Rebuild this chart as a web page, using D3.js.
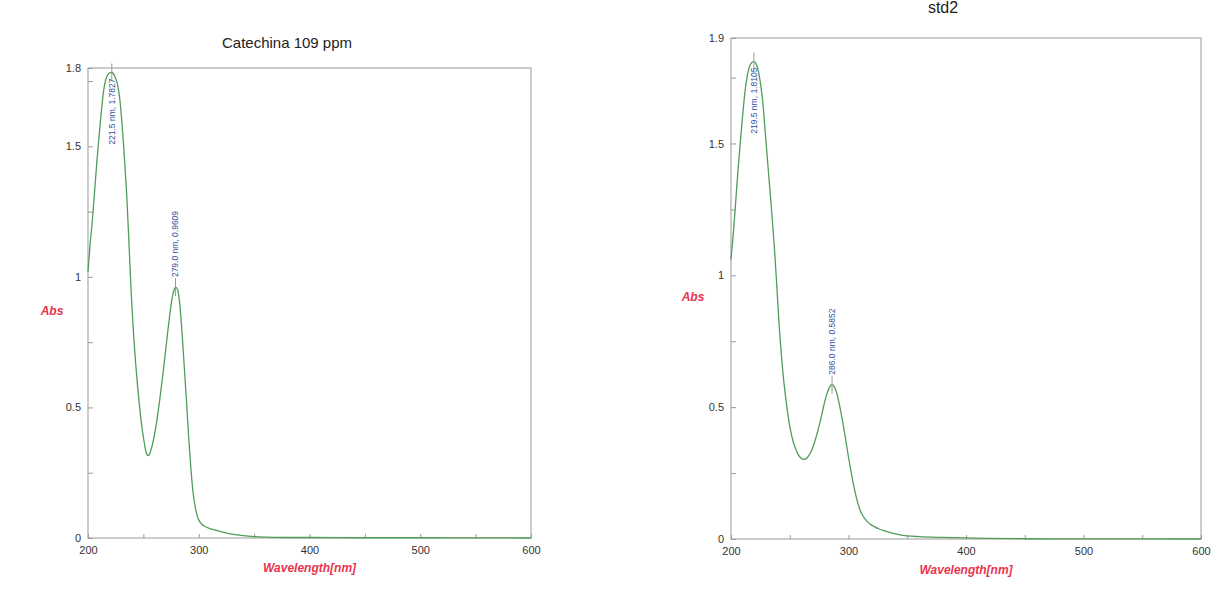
<!DOCTYPE html>
<html>
<head>
<meta charset="utf-8">
<script src="https://cdn.jsdelivr.net/npm/d3@7"></script>
<style>
  body { margin: 0; background: #fff; }
  svg { display: block; }
</style>
</head>
<body>
<div id="d3-container"></div>
<script>
/**
 * DATA
 * */
const titles = ["Catechina 109 ppm", "std2"];
const xTickLabels = [200, 300, 400, 500, 600];

// Catechina 109 ppm spectrum
const catNm = [200, 202, 204, 206, 208, 210, 212, 214, 216, 218, 220, 221.5, 223, 225, 227, 229, 231, 233, 235, 237,
  239, 241, 243, 245, 247, 249, 251, 252, 253, 254, 255, 256, 258, 260, 262, 264, 266, 268, 270, 272, 274, 276, 277.5,
  279, 281, 283, 285, 287, 289, 291, 293, 295, 297, 299, 301, 303, 305, 310, 315, 320, 325, 330, 340,
  350, 360, 380, 400, 450, 500, 550, 600];
const catAbs = [1.02, 1.13, 1.22, 1.33, 1.44, 1.54, 1.63, 1.71, 1.755, 1.775, 1.782, 1.7827, 1.778, 1.76, 1.73, 1.67, 1.57, 1.45, 1.31, 1.13,
  0.94, 0.79, 0.67, 0.57, 0.485, 0.415, 0.36, 0.337, 0.322, 0.316, 0.318, 0.326, 0.355, 0.395, 0.445, 0.505, 0.57, 0.64, 0.715, 0.79, 0.86, 0.92, 0.948,
  0.9609, 0.95, 0.89, 0.78, 0.65, 0.52, 0.38, 0.26, 0.17, 0.115, 0.08, 0.062, 0.052, 0.046, 0.036, 0.03, 0.024, 0.019, 0.015, 0.009,
  0.005, 0.003, 0.002, 0.002, 0.001, 0.001, 0.0005, 0];
const catPeakNm = [221.5, 279.0];
const catPeakAbs = [1.7827, 0.9609];

// std2 spectrum
const stdNm = [200, 202, 204, 206, 208, 210, 212, 214, 216, 218, 219.5, 221, 223, 225, 227, 229, 231, 233, 235, 237,
  239, 241, 243, 245, 247, 249, 251, 253, 255, 257, 259, 261.5, 264, 266, 268, 270, 272, 274, 276, 278,
  280, 282, 284, 286, 288, 290, 292, 294, 296, 298, 300, 302, 304, 306, 308, 310, 312, 314, 316, 318,
  322, 326, 330, 335, 340, 345, 350, 360, 380, 400, 420, 450, 500, 600];
const stdAbs = [1.06, 1.16, 1.28, 1.40, 1.51, 1.61, 1.70, 1.76, 1.795, 1.808, 1.8105, 1.805, 1.78, 1.73, 1.66, 1.55, 1.44, 1.33, 1.22, 1.10,
  0.96, 0.81, 0.69, 0.595, 0.52, 0.455, 0.405, 0.368, 0.342, 0.322, 0.309, 0.302, 0.305, 0.315, 0.33, 0.352, 0.38, 0.412, 0.448, 0.487,
  0.525, 0.556, 0.577, 0.5852, 0.577, 0.553, 0.515, 0.47, 0.42, 0.365, 0.31, 0.26, 0.212, 0.17, 0.135, 0.108, 0.09, 0.076, 0.066, 0.058,
  0.047, 0.038, 0.032, 0.025, 0.019, 0.015, 0.012, 0.009, 0.006, 0.004, 0.002, 0.001, 0.0005, 0];
const stdPeakNm = [219.5, 286.0];
const stdPeakAbs = [1.8105, 0.5852];

const catYTicks = [0, 0.5, 1, 1.5, 1.8];
const stdYTicks = [0, 0.5, 1, 1.5, 1.9];

/**
 * LAYOUT
 * */
const width = 1229, height = 590;
const panels = [
  { title: titles[0], nm: catNm, abs: catAbs, peakNm: catPeakNm, peakAbs: catPeakAbs, yMax: 1.8, yTicks: catYTicks,
    x0: 88, x1: 531, y0: 538, y1: 68, titleX: 287, titleY: 48, titleSize: 15, absX: 52, absY: 315, labelY: 572,
    labelSide: ["below", "above"] },
  { title: titles[1], nm: stdNm, abs: stdAbs, peakNm: stdPeakNm, peakAbs: stdPeakAbs, yMax: 1.9, yTicks: stdYTicks,
    x0: 731, x1: 1201, y0: 539, y1: 38, titleX: 943, titleY: 13, titleSize: 16, absX: 693, absY: 301, labelY: 574,
    labelSide: ["below", "above"] }
];

const red = "#e8344e", blue = "#2d4f9e", green = "#4f9d58", frameCol = "#9a9a9a";

const svg = d3.select("#d3-container")
  .append("svg")
  .attr("width", width)
  .attr("height", height)
  .style("font-family", "Arial, 'Liberation Sans', sans-serif");

panels.forEach(drawPanel);

function drawPanel(p) {
  const x = d3.scaleLinear().domain([200, 600]).range([p.x0, p.x1]);
  const y = d3.scaleLinear().domain([0, p.yMax]).range([p.y0, p.y1]);
  const g = svg.append("g");

  // frame
  g.append("rect")
    .attr("x", p.x0).attr("y", p.y1)
    .attr("width", p.x1 - p.x0).attr("height", p.y0 - p.y1)
    .attr("fill", "none").attr("stroke", frameCol).attr("stroke-width", 1);

  // x axis, ticks every 50 nm pointing inward
  const xAxis = d3.axisBottom(x)
    .tickValues(d3.range(200, 601, 50))
    .tickSizeInner(-4).tickSizeOuter(0)
    .tickFormat(d => xTickLabels.includes(d) ? d : "");
  const gx = g.append("g").attr("transform", `translate(0,${p.y0})`).call(xAxis);
  gx.select(".domain").remove();
  gx.selectAll("line").attr("stroke", frameCol);
  gx.selectAll("text").attr("dy", "1.1em").attr("y", 4)
    .attr("fill", "#333").style("font-size", "11px");

  // y axis, ticks every 0.25 pointing inward
  const yVals = d3.range(0, p.yMax + 0.001, 0.25).concat([p.yMax]);
  const yAxis = d3.axisLeft(y)
    .tickValues(yVals)
    .tickSizeInner(-5).tickSizeOuter(0)
    .tickFormat(d => p.yTicks.includes(d) ? d3.format("~g")(d) : "");
  const gy = g.append("g").attr("transform", `translate(${p.x0},0)`).call(yAxis);
  gy.select(".domain").remove();
  gy.selectAll("line").attr("stroke", frameCol);
  gy.selectAll("text").attr("x", -7).attr("fill", "#333").style("font-size", "11px");

  // spectrum
  const pts = p.nm.map((d, i) => [d, p.abs[i]]);
  const line = d3.line()
    .x(d => x(d[0]))
    .y(d => y(d[1]))
    .curve(d3.curveMonotoneX);
  g.append("path")
    .datum(pts)
    .attr("d", line)
    .attr("fill", "none")
    .attr("stroke", green)
    .attr("stroke-width", 1.3);

  // peak markers + labels
  p.peakNm.forEach((nm, i) => {
    const px = x(nm), py = y(p.peakAbs[i]);
    g.append("line")
      .attr("x1", px).attr("x2", px)
      .attr("y1", py - 9).attr("y2", py + 9)
      .attr("stroke", "#999").attr("stroke-width", 1);
    const below = p.labelSide[i] === "below";
    const ty = below ? py + 6 : py - 10;
    g.append("text")
      .attr("transform", `translate(${px},${ty}) rotate(-90)`)
      .attr("text-anchor", below ? "end" : "start")
      .attr("dy", "0.35em")
      .attr("fill", blue)
      .style("font-size", "8.5px")
      .text(`${nm.toFixed(1)} nm, ${p.peakAbs[i].toFixed(4)}`);
  });

  // title
  g.append("text")
    .attr("x", p.titleX).attr("y", p.titleY)
    .attr("text-anchor", "middle")
    .attr("fill", "#222")
    .style("font-size", p.titleSize + "px")
    .text(p.title);

  // axis labels
  g.append("text")
    .attr("x", p.absX).attr("y", p.absY)
    .attr("text-anchor", "middle")
    .attr("fill", red)
    .style("font-size", "12px").style("font-weight", "bold").style("font-style", "italic")
    .text("Abs");
  g.append("text")
    .attr("x", (p.x0 + p.x1) / 2).attr("y", p.labelY)
    .attr("text-anchor", "middle")
    .attr("fill", red)
    .style("font-size", "12px").style("font-weight", "bold").style("font-style", "italic")
    .text("Wavelength[nm]");
}
</script>
</body>
</html>
